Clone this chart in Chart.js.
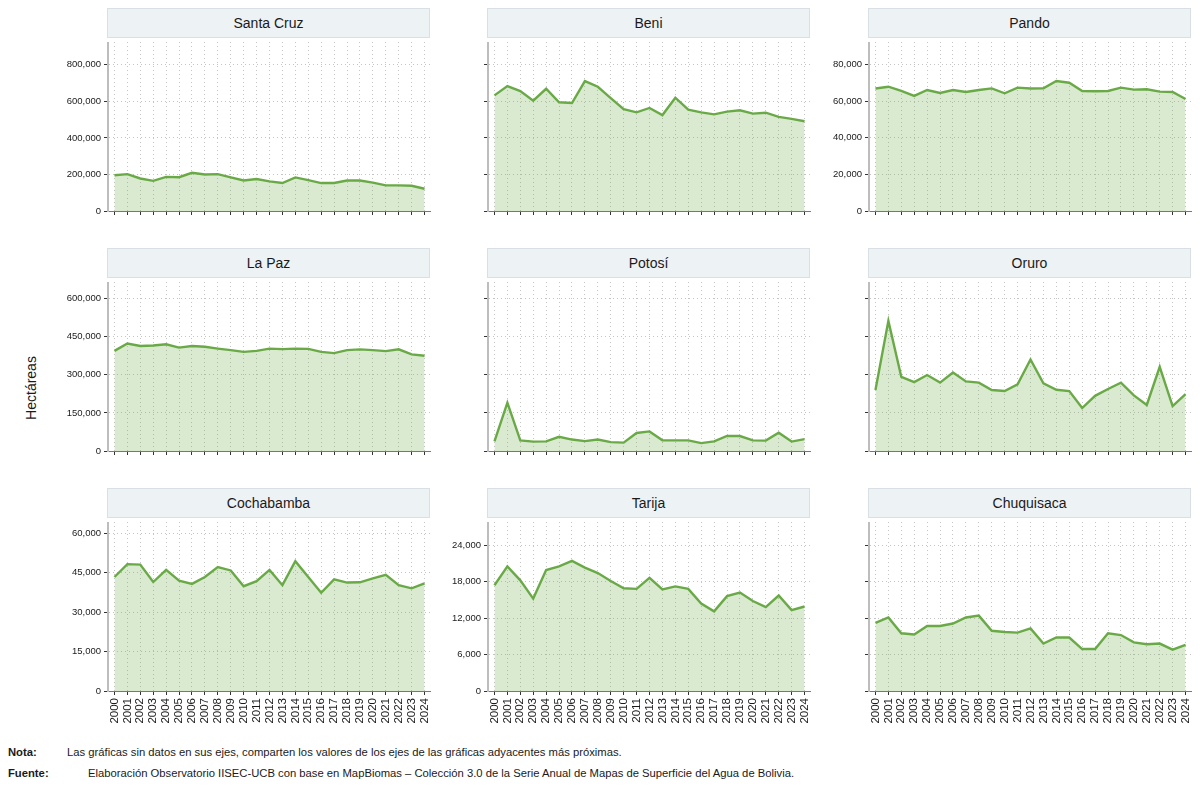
<!DOCTYPE html>
<html lang="es">
<head>
<meta charset="utf-8">
<title>Superficie de agua por departamento, 2000-2024</title>
<script src="https://cdn.jsdelivr.net/npm/chart.js@4.4.1/dist/chart.umd.min.js"></script>
<style>
  body { margin: 0; background: #fff; font-family: "Liberation Sans", Arial, sans-serif; }
  #wrap { position: relative; width: 1200px; height: 789px; overflow: hidden; }
  canvas { position: absolute; }
  .strip {
    position: absolute; height: 30px; box-sizing: border-box;
    background: #edf2f5; border: 1px solid #d8e0e5;
    font-size: 14px; color: #1a1a1a; text-align: center; line-height: 28px;
  }
  #ytitle {
    position: absolute; left: 31px; top: 388px; font-size: 14px; color: #1a1a1a;
    transform: translate(-50%, -50%) rotate(-90deg); white-space: nowrap;
  }
  .note { position: absolute; left: 8px; font-size: 11.25px; color: #1a1a1a; white-space: nowrap; }
  .note b { display: inline-block; }
</style>
</head>
<body>
<div id="wrap">
  <div id="ytitle">Hectáreas</div>
  <div class="note" style="top:746px"><b style="width:59px">Nota:</b>Las gráficas sin datos en sus ejes, comparten los valores de los ejes de las gráficas adyacentes más próximas.</div>
  <div class="note" style="top:767px"><b style="width:80px">Fuente:</b>Elaboración Observatorio IISEC-UCB con base en MapBiomas – Colección 3.0 de la Serie Anual de Mapas de Superficie del Agua de Bolivia.</div>
</div>
<script>
const years = ["2000","2001","2002","2003","2004","2005","2006","2007","2008","2009","2010","2011","2012",
  "2013","2014","2015","2016","2017","2018","2019","2020","2021","2022","2023","2024"];

const santaCruz = [196000,202000,178000,165000,187000,185000,209000,200000,202000,184000,167000,175000,162000,
  153000,184000,169000,153000,153000,167000,167000,155000,140000,140000,138000,122000];
const beni = [633000,684000,656000,604000,669000,595000,591000,711000,680000,618000,558000,540000,564000,
  525000,620000,555000,540000,529000,544000,551000,533000,538000,515000,504000,491000];
const pando = [66800,67800,65500,62800,66000,64400,66000,64900,66000,66900,64200,67300,66800,
  66900,70900,70000,65500,65300,65500,67300,66200,66400,65100,64900,61100];
const laPaz = [394000,423000,413000,415000,420000,407000,413000,410000,403000,397000,390000,394000,403000,
  401000,403000,402000,390000,385000,397000,400000,397000,393000,400000,380000,375000];
const potosi = [38000,190000,42000,37000,38000,56000,45000,39000,45000,35000,33000,71000,77000,
  42000,42000,42000,31000,38000,59000,59000,42000,41000,72000,37000,47000];
const oruro = [240000,512000,292000,271000,299000,269000,309000,274000,269000,240000,236000,262000,360000,
  266000,241000,236000,169000,217000,244000,269000,219000,181000,331000,177000,224000];
const cochabamba = [43300,48200,48000,41400,46000,41900,40700,43300,47100,45800,39800,41700,46000,
  40200,49300,43300,37300,42400,41200,41300,42800,44100,40200,39000,40900];
const tarija = [17400,20500,18200,15200,19900,20500,21400,20300,19400,18100,16900,16800,18600,
  16700,17200,16800,14400,13100,15600,16200,14800,13800,15700,13300,13900];
const chuquisaca = [11200,12100,9500,9300,10700,10700,11100,12100,12400,9900,9700,9600,10300,
  7800,8800,8800,6900,6900,9500,9200,8000,7700,7800,6800,7600];

// tick values of each shared axis
const ticksRow1 = [0, 200000, 400000, 600000, 800000];
const ticksPando = [0, 20000, 40000, 60000, 80000];
const ticksRow2 = [0, 150000, 300000, 450000, 600000];
const ticksCocha = [0, 15000, 30000, 45000, 60000];
const ticksTarija = [0, 6000, 12000, 18000, 24000];

const panels = [
  { name: "Santa Cruz", data: santaCruz, ticks: ticksRow1, max: 925000, col: 0, row: 0, showY: true },
  { name: "Beni", data: beni, ticks: ticksRow1, max: 925000, col: 1, row: 0, showY: false },
  { name: "Pando", data: pando, ticks: ticksPando, max: 92200, col: 2, row: 0, showY: true },
  { name: "La Paz", data: laPaz, ticks: ticksRow2, max: 665000, col: 0, row: 1, showY: true },
  { name: "Potosí", data: potosi, ticks: ticksRow2, max: 665000, col: 1, row: 1, showY: false },
  { name: "Oruro", data: oruro, ticks: ticksRow2, max: 665000, col: 2, row: 1, showY: false },
  { name: "Cochabamba", data: cochabamba, ticks: ticksCocha, max: 64200, col: 0, row: 2, showY: true },
  { name: "Tarija", data: tarija, ticks: ticksTarija, max: 27800, col: 1, row: 2, showY: true },
  { name: "Chuquisaca", data: chuquisaca, ticks: ticksTarija, max: 27800, col: 2, row: 2, showY: false }
];

const axisX = [108, 488, 869];
const plotTop = [42, 282, 522];
const plotW = 323, plotH = 169, yAxisW = 58;
const wrap = document.getElementById("wrap");

panels.forEach(p => {
  const bottom = p.row === 2;
  const xH = bottom ? 44 : 8;

  const strip = document.createElement("div");
  strip.className = "strip";
  strip.style.left = (axisX[p.col] - 1) + "px";
  strip.style.top = (plotTop[p.row] - 34) + "px";
  strip.style.width = plotW + "px";
  strip.textContent = p.name;
  wrap.appendChild(strip);

  const canvas = document.createElement("canvas");
  canvas.width = yAxisW + plotW;
  canvas.height = plotH + xH;
  canvas.style.left = (axisX[p.col] - yAxisW) + "px";
  canvas.style.top = plotTop[p.row] + "px";
  wrap.appendChild(canvas);

  new Chart(canvas.getContext("2d"), {
    type: "line",
    data: {
      labels: years,
      datasets: [{
        data: p.data,
        borderColor: "#6aaa46",
        borderWidth: 2.4,
        backgroundColor: "rgba(106,170,70,0.25)",
        fill: "origin",
        pointRadius: 0,
        tension: 0
      }]
    },
    options: {
      responsive: false,
      animation: false,
      layout: { padding: 0 },
      plugins: { legend: { display: false }, tooltip: { enabled: false } },
      scales: {
        x: {
          type: "category",
          offset: true,
          grid: {
            offset: false,
            color: "#c4c4c4",
            tickColor: "#333",
            tickLength: 4,
            tickBorderDash: []
          },
          border: { color: "#777", width: 1, dash: [1, 3] },
          ticks: {
            display: bottom,
            autoSkip: false,
            minRotation: 90,
            maxRotation: 90,
            padding: 3,
            color: "#1a1a1a",
            font: { family: "Liberation Sans", size: 11.5 }
          },
          afterFit: s => { s.height = xH; s.paddingLeft = 0; s.paddingRight = 0; }
        },
        y: {
          min: 0,
          max: p.max,
          grid: {
            color: "#c4c4c4",
            tickColor: "#333",
            tickLength: 4,
            tickBorderDash: []
          },
          border: { color: "#bdbdbd", width: 2, dash: [1, 3] },
          afterBuildTicks: s => { s.ticks = p.ticks.map(v => ({ value: v })); },
          ticks: {
            display: p.showY,
            padding: 3,
            color: "#1a1a1a",
            font: { family: "Liberation Sans", size: 9.5 },
            callback: v => v.toLocaleString("en-US")
          },
          afterFit: s => { s.width = yAxisW; s.paddingTop = 0; s.paddingBottom = 0; }
        }
      }
    }
  });
});
</script>
</body>
</html>
